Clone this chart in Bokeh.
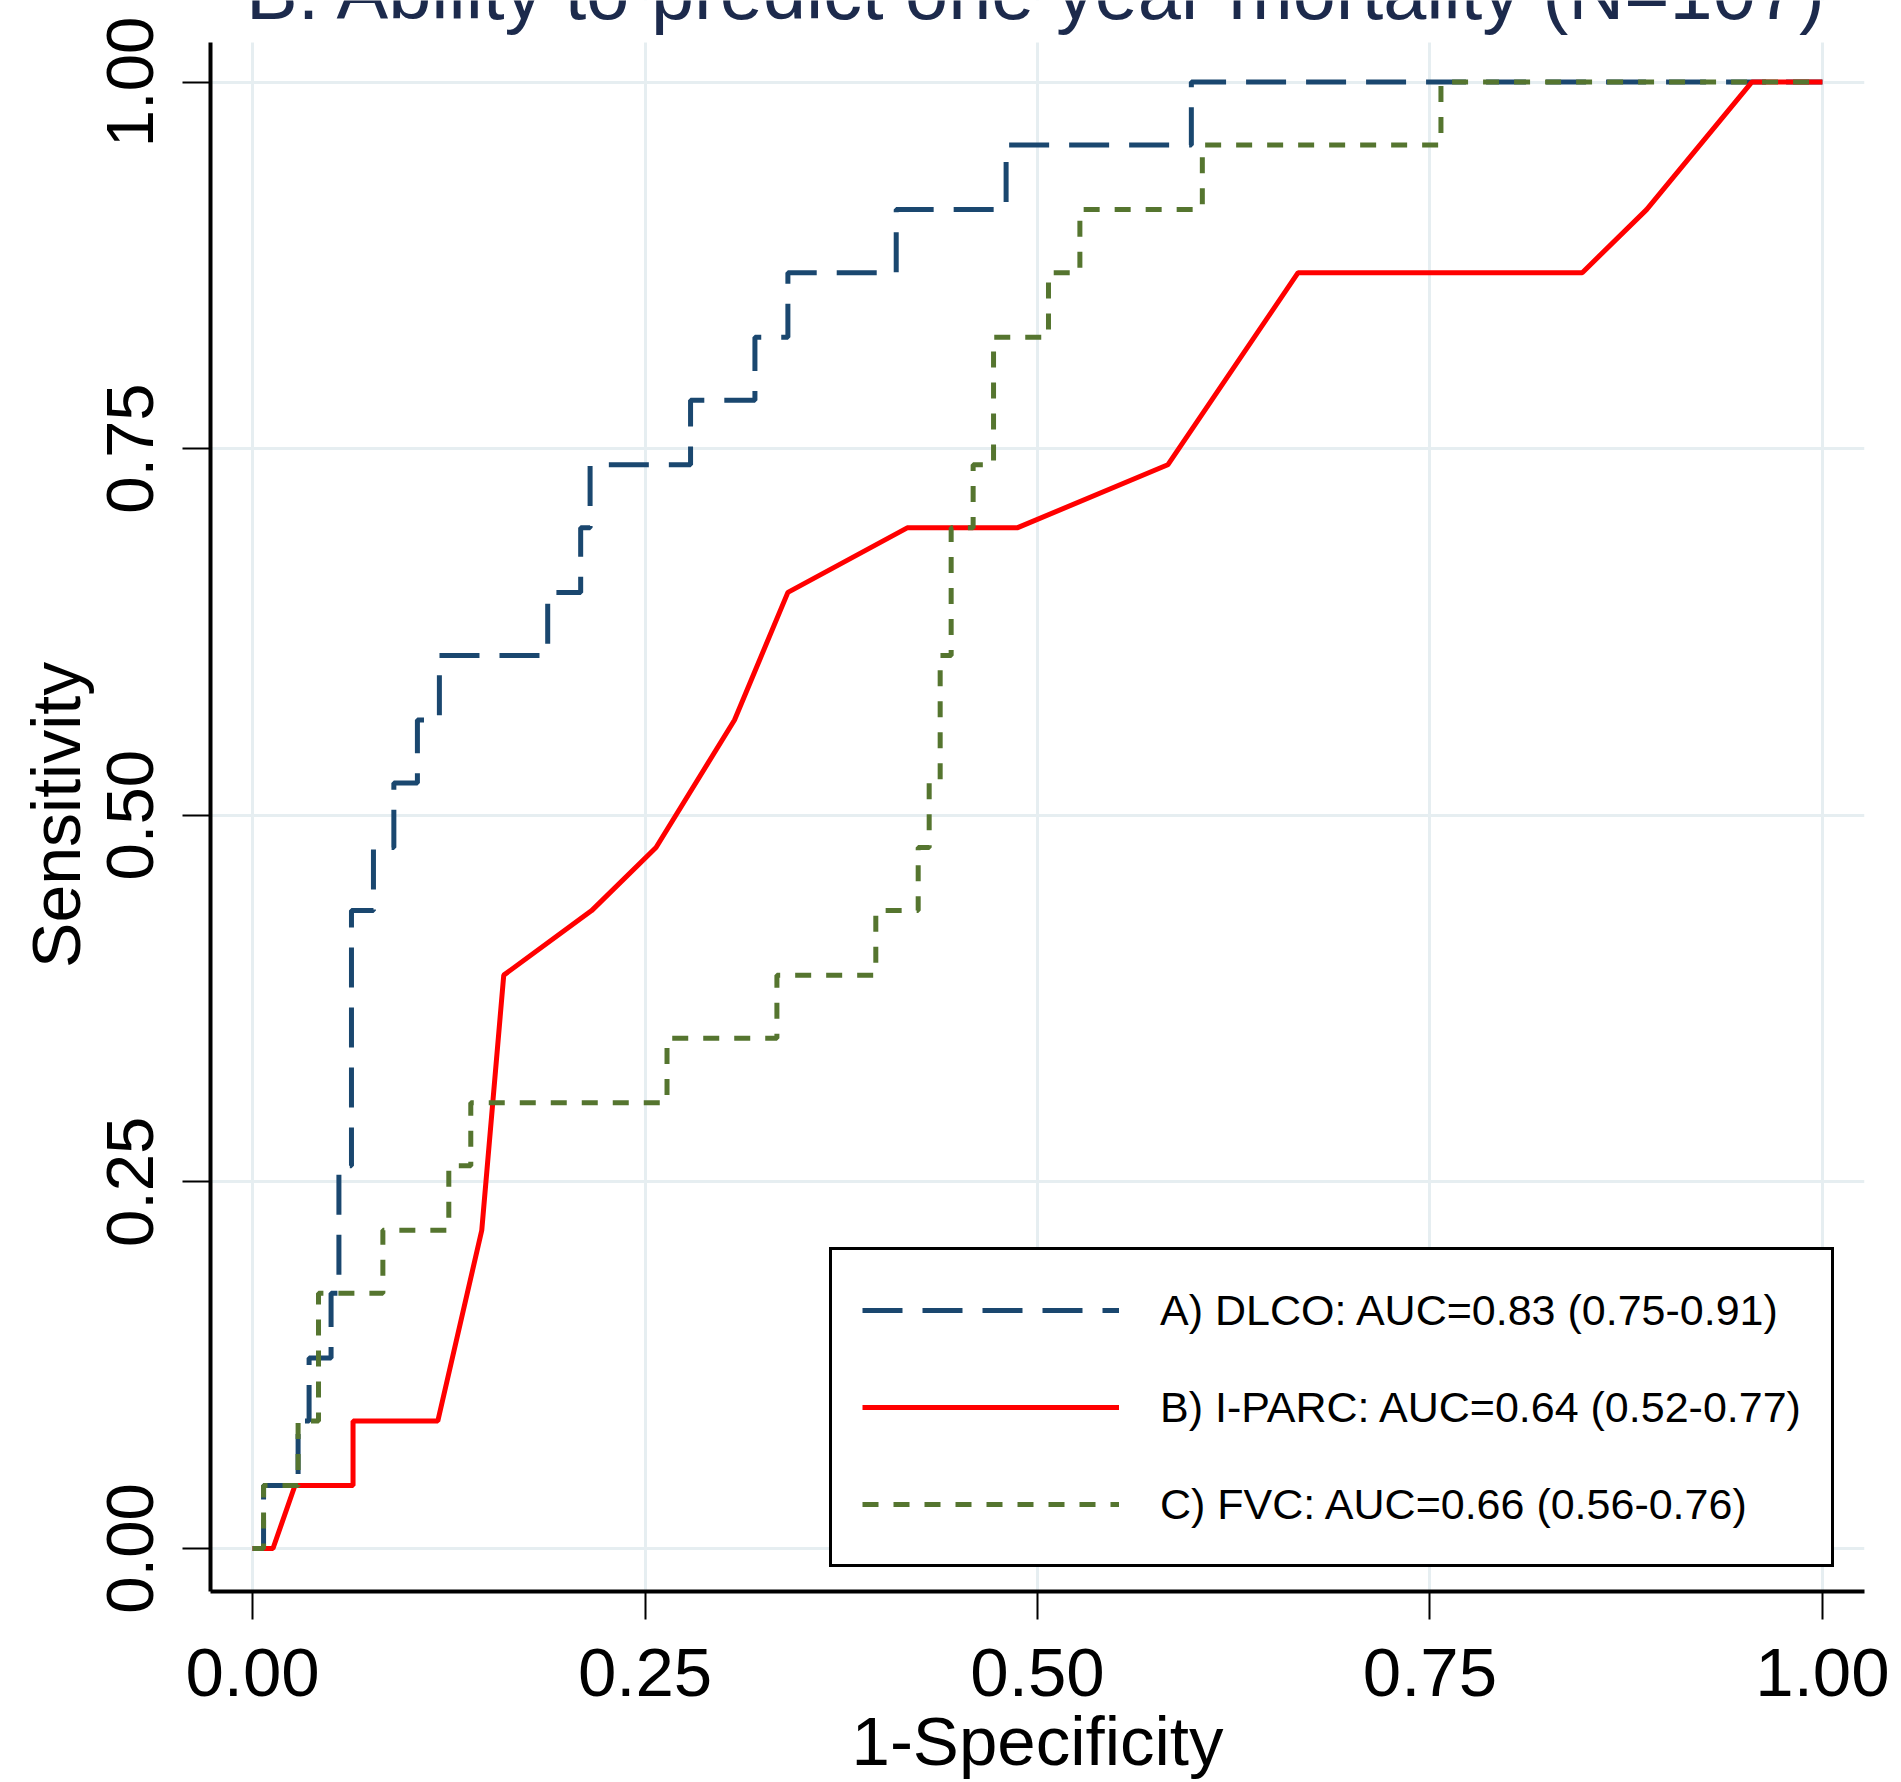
from bokeh.plotting import figure
from bokeh.models import (Range1d, FixedTicker, Legend, LegendItem, Label, NumeralTickFormatter,
                          BoxAnnotation)
from bokeh.embed import file_html
from bokeh.resources import INLINE

# ---- data ----
ticks = [0.0, 0.25, 0.5, 0.75, 1.0]

dlco_fpr = [0, 0.007, 0.007, 0.029, 0.029, 0.036, 0.036, 0.050, 0.050, 0.055, 0.055, 0.063, 0.063,
            0.077, 0.077, 0.090, 0.090, 0.105, 0.105, 0.119, 0.119, 0.188, 0.188, 0.209, 0.209,
            0.215, 0.215, 0.279, 0.279, 0.320, 0.320, 0.341, 0.341, 0.410, 0.410, 0.480, 0.480,
            0.598, 0.598, 1.0]
dlco_tpr = [0, 0, 0.043, 0.043, 0.087, 0.087, 0.130, 0.130, 0.174, 0.174, 0.261, 0.261, 0.435,
            0.435, 0.478, 0.478, 0.522, 0.522, 0.565, 0.565, 0.609, 0.609, 0.652, 0.652, 0.696,
            0.696, 0.739, 0.739, 0.783, 0.783, 0.826, 0.826, 0.870, 0.870, 0.913, 0.913, 0.957,
            0.957, 1.0, 1.0]

iparc_fpr = [0, 0.013, 0.027, 0.064, 0.064, 0.118, 0.146, 0.160, 0.216, 0.257, 0.307, 0.341,
             0.417, 0.487, 0.583, 0.666, 0.847, 0.888, 0.955, 1.0]
iparc_tpr = [0, 0, 0.043, 0.043, 0.087, 0.087, 0.217, 0.391, 0.435, 0.478, 0.565, 0.652,
             0.696, 0.696, 0.739, 0.870, 0.870, 0.913, 1.0, 1.0]

fvc_fpr = [0, 0.007, 0.007, 0.029, 0.029, 0.042, 0.042, 0.083, 0.083, 0.125, 0.125, 0.139, 0.139,
           0.264, 0.264, 0.334, 0.334, 0.397, 0.397, 0.424, 0.424, 0.431, 0.431, 0.438, 0.438,
           0.445, 0.445, 0.459, 0.459, 0.472, 0.472, 0.507, 0.507, 0.527, 0.527, 0.605, 0.605,
           0.757, 0.757, 1.0]
fvc_tpr = [0, 0, 0.043, 0.043, 0.087, 0.087, 0.174, 0.174, 0.217, 0.217, 0.261, 0.261, 0.304,
           0.304, 0.348, 0.348, 0.391, 0.391, 0.435, 0.435, 0.478, 0.478, 0.522, 0.522, 0.609,
           0.609, 0.696, 0.696, 0.739, 0.739, 0.826, 0.826, 0.870, 0.870, 0.913, 0.913, 0.957,
           0.957, 1.0, 1.0]

labels = ["A) DLCO: AUC=0.83 (0.75-0.91)",
          "B) I-PARC: AUC=0.64 (0.52-0.77)",
          "C) FVC: AUC=0.66 (0.56-0.76)"]
title_text = "B. Ability to predict one year mortality (N=107)"
x_title = "1-Specificity"
y_title = "Sensitivity"

FONT = "Liberation Sans"
Y_LO, Y_AXIS_TOP, Y_CANVAS_TOP = -0.0293, 1.027, 1.0556

p = figure(width=1893, height=1782, output_backend="svg", toolbar_location=None,
           x_range=Range1d(-0.0268, 1.0268), y_range=Range1d(Y_LO, Y_CANVAS_TOP),
           min_border_left=210, min_border_right=29, min_border_top=0, min_border_bottom=190)
p.outline_line_color = None
p.background_fill_color = "white"
p.border_fill_color = "white"

# grid
p.xgrid.ticker = FixedTicker(ticks=ticks)
p.ygrid.ticker = FixedTicker(ticks=ticks)
p.grid.grid_line_color = "#e6eef1"
p.grid.grid_line_width = 3

# white band above the plot region (where the title sits)
p.add_layout(BoxAnnotation(bottom=Y_AXIS_TOP, fill_color="white", fill_alpha=1.0,
                           line_alpha=0, level="underlay"))

# axes
for ax in (p.xaxis[0], p.yaxis[0]):
    ax.ticker = FixedTicker(ticks=ticks)
    ax.formatter = NumeralTickFormatter(format="0.00")
    ax.axis_line_color = "black"
    ax.axis_line_width = 4
    ax.major_tick_line_color = "black"
    ax.major_tick_line_width = 2
    ax.major_tick_out = 28
    ax.major_tick_in = 0
    ax.minor_tick_line_color = None
    ax.major_label_text_font = FONT
    ax.major_label_text_color = "black"
    ax.axis_label_text_font = FONT
    ax.axis_label_text_font_style = "normal"
    ax.axis_label_text_color = "black"

p.yaxis.bounds = (Y_LO, Y_AXIS_TOP)

p.xaxis.major_label_text_font_size = "69px"
p.xaxis.major_label_standoff = 29
p.xaxis.axis_label = x_title
p.xaxis.axis_label_text_font_size = "69px"
p.xaxis.axis_label_standoff = 4

p.yaxis.major_label_text_font_size = "67px"
p.yaxis.major_label_orientation = "vertical"
p.yaxis.major_label_standoff = 29
# two no-break spaces keep the title centred on the visible axis rather than the taller frame
p.yaxis.axis_label = y_title + "\u00a0\u00a0"
p.yaxis.axis_label_text_font_size = "68px"
p.yaxis.axis_label_standoff = 11

# curves
r1 = p.line(dlco_fpr, dlco_tpr, line_color="#1a476f", line_width=5, line_dash="40 20")
r2 = p.line(iparc_fpr, iparc_tpr, line_color="#ff0000", line_width=5)
r3 = p.line(fvc_fpr, fvc_tpr, line_color="#55752f", line_width=5, line_dash="16 15")

legend = Legend(items=[LegendItem(label=labels[0], renderers=[r1]),
                       LegendItem(label=labels[1], renderers=[r2]),
                       LegendItem(label=labels[2], renderers=[r3])],
                location=(619, 24), orientation="vertical",
                label_text_font=FONT, label_text_font_size="43px", label_text_color="black",
                glyph_width=257, glyph_height=60, spacing=37, padding=30, label_standoff=41,
                border_line_color="black", border_line_width=3, border_line_alpha=1.0, margin=0,
                background_fill_color="white", background_fill_alpha=1.0)
p.add_layout(legend)

title = Label(x=0.5, y=1600, x_units="data", y_units="screen", text=title_text,
              text_align="center", text_baseline="alphabetic", text_font=FONT,
              text_font_size="77.5px", text_color="#1c2a4c")
p.add_layout(title)

open("out.html", "w").write(file_html(p, INLINE))
